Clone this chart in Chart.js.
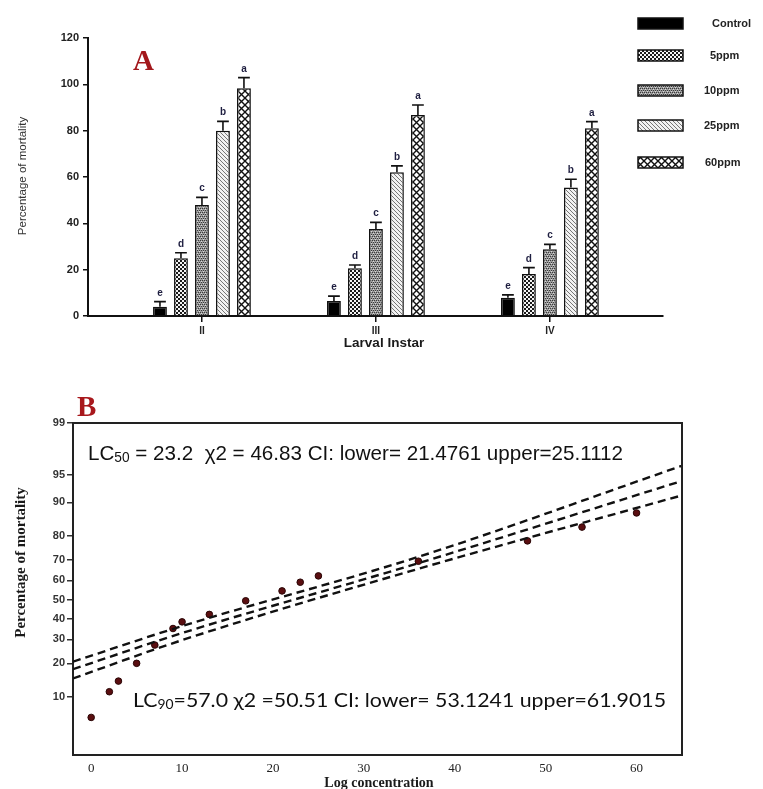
<!DOCTYPE html>
<html><head><meta charset="utf-8">
<script src="https://cdn.jsdelivr.net/npm/chart.js@4.4.1/dist/chart.umd.min.js"></script>
<style>
html,body{margin:0;padding:0;background:#fff;}
#wrapA{position:absolute;left:0;top:0;width:763px;height:362px;}
#wrapB{position:absolute;left:0;top:380px;width:763px;height:409px;}
canvas{display:block;}
</style></head><body>
<div id="wrapA"><canvas id="cA" width="763" height="362"></canvas></div>
<div id="wrapB"><canvas id="cB" width="763" height="409"></canvas></div>
<script>
// ===== Panel A data =====
const instars = ['II', 'III', 'IV'];
const seriesNames = ['Control', '5ppm', '10ppm', '25ppm', '60ppm'];
const control = [4.0, 6.5, 7.9];
const ppm5 = [24.9, 20.6, 18.1];
const ppm10 = [47.9, 37.6, 28.8];
const ppm25 = [80.0, 62.0, 55.5];
const ppm60 = [98.3, 86.8, 81.0];
const errControl = [2.2, 2.1, 1.2];
const err5 = [2.4, 1.4, 2.8];
const err10 = [3.3, 2.8, 2.1];
const err25 = [4.0, 2.8, 3.5];
const err60 = [4.6, 4.3, 2.9];
const letters = ['e', 'd', 'c', 'b', 'a'];
const yTicksA = [0, 20, 40, 60, 80, 100, 120];

// ===== Panel B data =====
const concentration = [0, 2, 3, 5, 7, 9, 10, 13, 17, 21, 23, 25, 36, 48, 54, 60];
const mortality = [6.0, 11.2, 14.1, 20.0, 27.4, 35.1, 38.4, 42.2, 49.3, 54.5, 59.0, 62.2, 69.3, 78.0, 83.0, 87.3];
const lineX = [-2, 10, 36, 65];
const upperLine = [20.6, 36.3, 71.3, 96.1];
const fitLine = [17.9, 32.9, 68.4, 94.1];
const lowerLine = [14.9, 29.6, 65.7, 91.5];
const probitTickLabels = [99, 95, 90, 80, 70, 60, 50, 40, 30, 20, 10];
const xTicksB = [0, 10, 20, 30, 40, 50, 60];
const lc50Text = ['LC', '50', ' = 23.2  \u03C72 = 46.83 CI: lower= 21.4761 upper=25.1112'];
const lc90Text = ['LC', '90', '=57.0 \u03C72 =50.51 CI: lower= 53.1241 upper=61.9015'];

// inverse standard normal CDF (probit transform for the axis)
function probit(p) {
  const a = [-3.969683028665376e+01, 2.209460984245205e+02, -2.759285104469687e+02, 1.383577518672690e+02, -3.066479806614716e+01, 2.506628277459239e+00];
  const b = [-5.447609879822406e+01, 1.615858368580409e+02, -1.556989798598866e+02, 6.680131188771972e+01, -1.328068155288572e+01];
  const c = [-7.784894002430293e-03, -3.223964580411365e-01, -2.400758277161838e+00, -2.549732539343734e+00, 4.374664141464968e+00, 2.938163982698783e+00];
  const d = [7.784695709041462e-03, 3.224671290700398e-01, 2.445134137142996e+00, 3.754408661907416e+00];
  const pl = 0.02425, ph = 1 - pl;
  let q, r;
  if (p < pl) { q = Math.sqrt(-2 * Math.log(p)); return (((((c[0]*q+c[1])*q+c[2])*q+c[3])*q+c[4])*q+c[5]) / ((((d[0]*q+d[1])*q+d[2])*q+d[3])*q+1); }
  if (p <= ph) { q = p - 0.5; r = q*q; return (((((a[0]*r+a[1])*r+a[2])*r+a[3])*r+a[4])*r+a[5])*q / (((((b[0]*r+b[1])*r+b[2])*r+b[3])*r+b[4])*r+1); }
  q = Math.sqrt(-2 * Math.log(1 - p)); return -(((((c[0]*q+c[1])*q+c[2])*q+c[3])*q+c[4])*q+c[5]) / ((((d[0]*q+d[1])*q+d[2])*q+d[3])*q+1);
}

// ===== patterns =====
const ctxA = document.getElementById('cA').getContext('2d');
function makePattern(size, draw) {
  const c = document.createElement('canvas'); c.width = size; c.height = size;
  const g = c.getContext('2d'); draw(g, size);
  return ctxA.createPattern(c, 'repeat');
}
const pat5 = makePattern(4, (g, s) => { g.fillStyle = '#f4f4f4'; g.fillRect(0,0,s,s); g.fillStyle = '#1a1a1a'; g.fillRect(0,0,2,2); g.fillRect(2,2,2,2); });
const pat10 = makePattern(4, (g, s) => { g.fillStyle = '#9c9c9c'; g.fillRect(0,0,s,s); g.fillStyle = '#3a3a3a'; g.fillRect(0,0,1,1); g.fillRect(2,0,1,1); g.fillRect(1,2,1,1); g.fillRect(3,2,1,1); g.fillStyle='#d8d8d8'; g.fillRect(1,1,1,1); g.fillRect(3,3,1,1); });
const pat25 = makePattern(4, (g, s) => { g.fillStyle = '#f2f2f2'; g.fillRect(0,0,s,s); g.fillStyle = '#777'; for (let i = 0; i < s; i++) g.fillRect(i, i, 1, 1); });
const pat60 = makePattern(7, (g, s) => { g.fillStyle = '#fff'; g.fillRect(0,0,s,s); g.strokeStyle = '#111'; g.lineWidth = 1.4; g.beginPath(); g.moveTo(-1,-1); g.lineTo(s+1,s+1); g.moveTo(s+1,-1); g.lineTo(-1,s+1); g.stroke(); });
const fills = ['#000', pat5, pat10, pat25, pat60];
const vals = [control, ppm5, ppm10, ppm25, ppm60];
const errs = [errControl, err5, err10, err25, err60];

// ===== plugins A =====
const whiteBg = { id: 'whiteBg', beforeDraw(ch) { const c = ch.ctx; c.save(); c.fillStyle = '#fff'; c.fillRect(0, 0, ch.width, ch.height); c.restore(); } };

const errorBarsA = {
  id: 'errorBarsA',
  afterDatasetsDraw(ch) {
    const c = ch.ctx, ys = ch.scales.y;
    c.save();
    ch.data.datasets.forEach((ds, i) => {
      const meta = ch.getDatasetMeta(i);
      meta.data.forEach((el, j) => {
        const top = ys.getPixelForValue(vals[i][j] + errs[i][j]);
        const w = el.width * 0.85;
        c.strokeStyle = '#111'; c.lineWidth = 1.6;
        c.beginPath(); c.moveTo(el.x, el.y); c.lineTo(el.x, top);
        c.moveTo(el.x - w/2, top); c.lineTo(el.x + w/2, top); c.stroke();
        c.fillStyle = '#1e1e40'; c.font = 'bold 10px "Liberation Sans", Arial, sans-serif';
        c.textAlign = 'center'; c.textBaseline = 'alphabetic';
        c.fillText(letters[i], el.x, top - 6);
      });
    });
    c.restore();
  }
};

const legendA = {
  id: 'legendA',
  afterDraw(ch) {
    const c = ch.ctx;
    const boxTop = [18, 50, 85, 120, 157];
    const textX = [712, 710, 704, 704, 705];
    c.save();
    ch.data.datasets.forEach((ds, i) => {
      c.fillStyle = ds.backgroundColor;
      c.fillRect(638, boxTop[i], 45, 11);
      c.strokeStyle = '#111'; c.lineWidth = 1.5;
      c.strokeRect(638, boxTop[i], 45, 11);
      c.fillStyle = '#222'; c.font = 'bold 11px "Liberation Sans", Arial, sans-serif';
      c.textAlign = 'left'; c.textBaseline = 'middle';
      c.fillText(ds.label, textX[i], boxTop[i] + 5.5);
    });
    c.restore();
  }
};

const textsA = {
  id: 'textsA',
  afterDraw(ch) {
    const c = ch.ctx;
    c.save();
    c.fillStyle = '#a3181c'; c.font = 'bold 29px "Liberation Serif", "DejaVu Serif", serif';
    c.textAlign = 'left'; c.textBaseline = 'alphabetic';
    c.fillText('A', 133, 70);
    c.fillStyle = '#333'; c.font = '11.5px "Liberation Sans", Arial, sans-serif';
    c.translate(23, 176); c.rotate(-Math.PI/2); c.textAlign = 'center'; c.textBaseline = 'middle';
    c.fillText('Percentage of mortality', 0, 0);
    c.restore();
    c.save();
    c.fillStyle = '#1a1a1a'; c.font = 'bold 13.5px "Liberation Sans", Arial, sans-serif';
    c.textAlign = 'center'; c.textBaseline = 'middle';
    c.fillText('Larval Instar', 384, 343);
    c.restore();
  }
};

new Chart(ctxA, {
  type: 'bar',
  data: {
    datasets: seriesNames.map((n, i) => ({
      label: n,
      data: instars.map((_, j) => ({ x: j + 1, y: vals[i][j] })),
      backgroundColor: fills[i],
      borderColor: '#111',
      borderWidth: 1.5,
      categoryPercentage: 0.6034,
      barPercentage: 0.66
    }))
  },
  options: {
    responsive: false, animation: false, devicePixelRatio: 1,
    layout: { padding: { top: 38, right: 100, left: 0, bottom: 0 } },
    plugins: { legend: { display: false }, tooltip: { enabled: false } },
    scales: {
      x: {
        type: 'linear', min: 0.345, max: 3.65, offset: false,
        afterBuildTicks: s => { s.ticks = instars.map((_, j) => ({ value: j + 1 })); },
        afterFit: s => { s.height = 46; },
        ticks: { callback: (v, i) => instars[i], autoSkip: false, maxRotation: 0, padding: 3,
                 color: '#222', font: { family: '"Liberation Sans", Arial, sans-serif', size: 10, weight: 'bold' } },
        grid: { offset: false, drawOnChartArea: false, drawTicks: true, tickLength: 6, color: '#111', lineWidth: 1.5 },
        border: { display: true, color: '#111', width: 2 }
      },
      y: {
        min: 0, max: 120,
        afterBuildTicks: s => { s.ticks = yTicksA.map(v => ({ value: v })); },
        afterFit: s => { s.width = 88; },
        ticks: { padding: 4, color: '#222', autoSkip: false,
                 font: { family: '"Liberation Sans", Arial, sans-serif', size: 11, weight: 'bold' } },
        grid: { drawOnChartArea: false, drawTicks: true, tickLength: 5, color: '#111', lineWidth: 1.5 },
        border: { display: true, color: '#111', width: 2 }
      }
    }
  },
  plugins: [whiteBg, errorBarsA, legendA, textsA]
});

// ===== Panel B =====
const ctxB = document.getElementById('cB').getContext('2d');

function drawFitted(c, parts, fonts, dys, x, baseline, targetWidth) {
  let w = 0; const ws = [];
  parts.forEach((t, i) => { c.font = fonts[i]; ws[i] = c.measureText(t).width; w += ws[i]; });
  const sx = targetWidth / w;
  c.save(); c.translate(x, baseline); c.scale(sx, 1);
  let cx = 0;
  parts.forEach((t, i) => { c.font = fonts[i]; c.fillText(t, cx, dys[i]); cx += ws[i]; });
  c.restore();
}

const frameB = {
  id: 'frameB',
  afterDraw(ch) {
    const c = ch.ctx, a = ch.chartArea;
    c.save();
    c.strokeStyle = '#222'; c.lineWidth = 2;
    c.beginPath(); c.moveTo(a.left, a.top); c.lineTo(a.right, a.top); c.lineTo(a.right, a.bottom); c.stroke();
    c.restore();
  }
};

const textsB = {
  id: 'textsB',
  afterDraw(ch) {
    const c = ch.ctx;
    c.save();
    c.fillStyle = '#a8181c'; c.font = 'bold 29px "Liberation Serif", "DejaVu Serif", serif';
    c.textAlign = 'left'; c.textBaseline = 'alphabetic';
    c.fillText('B', 77, 36);
    c.fillStyle = '#111'; c.textBaseline = 'alphabetic';
    drawFitted(c, lc50Text,
      ['21px "Liberation Sans", Arial, sans-serif', '14px "Liberation Sans", Arial, sans-serif', '21px "Liberation Sans", Arial, sans-serif'],
      [0, 2, 0], 88, 80, 535);
    drawFitted(c, lc90Text,
      ['20px Lato, "Open Sans", sans-serif', '13px Lato, "Open Sans", sans-serif', '20px Lato, "Open Sans", sans-serif'],
      [0, 2, 0], 133, 327, 533);
    c.restore();
    c.save();
    c.fillStyle = '#1a1a1a'; c.font = 'bold 15px "Liberation Serif", "DejaVu Serif", serif';
    c.translate(21, 182.5); c.rotate(-Math.PI/2); c.textAlign = 'center'; c.textBaseline = 'middle';
    c.fillText('Percentage of mortality', 0, 0);
    c.restore();
    c.save();
    c.fillStyle = '#1a1a1a'; c.font = 'bold 14px "Liberation Serif", "DejaVu Serif", serif';
    c.textAlign = 'center'; c.textBaseline = 'middle';
    c.fillText('Log concentration', 379, 403);
    c.restore();
  }
};

const dashedLine = (arr) => ({
  data: lineX.map((x, i) => ({ x: x, y: probit(arr[i] / 100) })),
  showLine: true, borderColor: '#111', borderWidth: 2.4, borderDash: [8, 5],
  pointRadius: 0, fill: false, cubicInterpolationMode: 'monotone'
});

new Chart(ctxB, {
  type: 'scatter',
  data: {
    datasets: [
      dashedLine(upperLine),
      dashedLine(fitLine),
      dashedLine(lowerLine),
      {
        data: concentration.map((x, i) => ({ x: x, y: probit(mortality[i] / 100) })),
        backgroundColor: '#5a0e10', borderColor: '#2a0606', borderWidth: 1, pointRadius: 3.3
      }
    ]
  },
  options: {
    responsive: false, animation: false, devicePixelRatio: 1,
    layout: { padding: { top: 43, right: 81, left: 0, bottom: 0 } },
    plugins: { legend: { display: false }, tooltip: { enabled: false } },
    scales: {
      x: {
        type: 'linear', min: -2, max: 65,
        afterBuildTicks: s => { s.ticks = xTicksB.map(v => ({ value: v })); },
        afterFit: s => { s.height = 34; },
        ticks: { padding: 6, color: '#222', autoSkip: false, maxRotation: 0,
                 font: { family: '"Liberation Serif", "DejaVu Serif", serif', size: 13 } },
        grid: { drawOnChartArea: false, drawTicks: false },
        border: { display: true, color: '#222', width: 2 }
      },
      y: {
        type: 'linear', min: -2.05, max: probit(0.99),
        afterBuildTicks: s => { s.ticks = probitTickLabels.map(p => ({ value: probit(p / 100) })); },
        afterFit: s => { s.width = 73; },
        ticks: { callback: (v, i) => String(probitTickLabels[i]), padding: 2, color: '#333', autoSkip: false,
                 font: { family: '"Liberation Sans", Arial, sans-serif', size: 11, weight: 'bold' } },
        grid: { drawOnChartArea: false, drawTicks: true, tickLength: 6, color: '#333', lineWidth: 1.5 },
        border: { display: true, color: '#222', width: 2 }
      }
    }
  },
  plugins: [whiteBg, frameB, textsB]
});
</script>
</body></html>
